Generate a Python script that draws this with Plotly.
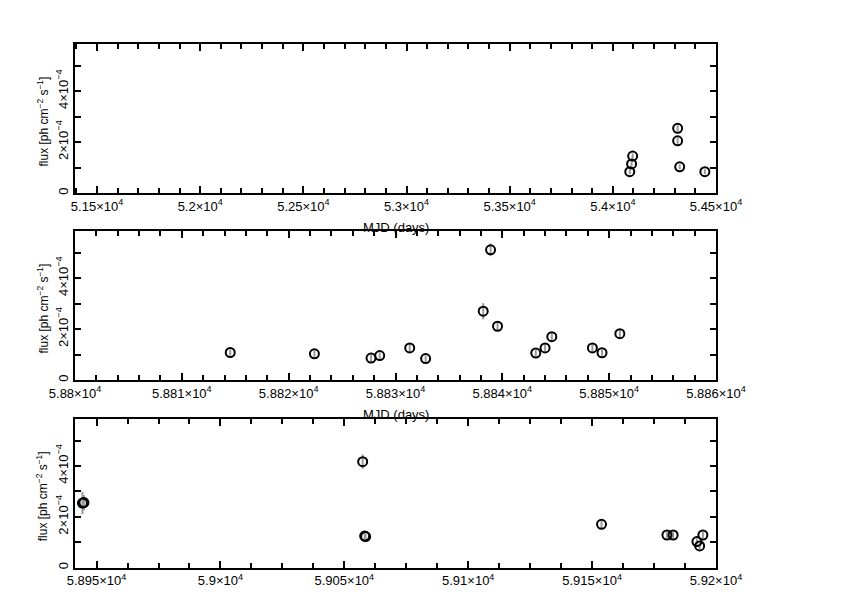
import plotly.graph_objects as go

# ---------------- data ----------------
mjd_p1 = [54082, 54091, 54096, 54314, 54314, 54324, 54446]
flux_p1 = [0.835e-4, 1.14e-4, 1.45e-4, 2.54e-4, 2.05e-4, 1.03e-4, 0.835e-4]
err_p1 = [0.10e-4, 0.10e-4, 0.10e-4, 0.12e-4, 0.12e-4, 0.10e-4, 0.10e-4]

mjd_p2 = [58814.53, 58822.41, 58827.71, 58828.52, 58831.33, 58832.82, 58838.21,
          58838.90, 58839.55, 58843.13, 58844.00, 58844.63, 58848.43, 58849.33, 58851.00]
flux_p2 = [1.08e-4, 1.03e-4, 0.86e-4, 0.96e-4, 1.26e-4, 0.84e-4, 2.70e-4,
           5.11e-4, 2.11e-4, 1.06e-4, 1.26e-4, 1.70e-4, 1.26e-4, 1.07e-4, 1.82e-4]
err_p2 = [0.12e-4, 0.12e-4, 0.12e-4, 0.12e-4, 0.18e-4, 0.12e-4, 0.32e-4,
          0.25e-4, 0.15e-4, 0.12e-4, 0.14e-4, 0.15e-4, 0.14e-4, 0.12e-4, 0.16e-4]

mjd_p3 = [58944.3, 58944.9, 59057.4, 59058.2, 59058.6, 59153.8, 59180.2, 59182.7,
          59194.7, 59192.3, 59193.4]
flux_p3 = [2.54e-4, 2.56e-4, 4.17e-4, 1.24e-4, 1.22e-4, 1.70e-4, 1.28e-4, 1.28e-4,
           1.28e-4, 1.02e-4, 0.85e-4]
err_p3 = [0.44e-4, 0.30e-4, 0.28e-4, 0.12e-4, 0.12e-4, 0.14e-4, 0.12e-4, 0.12e-4,
          0.12e-4, 0.12e-4, 0.12e-4]

xt_p1 = [51500, 52000, 52500, 53000, 53500, 54000, 54500]
xl_p1 = ["5.15", "5.2", "5.25", "5.3", "5.35", "5.4", "5.45"]
xt_p2 = [58800, 58810, 58820, 58830, 58840, 58850, 58860]
xl_p2 = ["5.88", "5.881", "5.882", "5.883", "5.884", "5.885", "5.886"]
xt_p3 = [58950, 59000, 59050, 59100, 59150, 59200]
xl_p3 = ["5.895", "5.9", "5.905", "5.91", "5.915", "5.92"]

yt = [0, 2e-4, 4e-4]
yl = ["0", "2×10<sup>−4</sup>", "4×10<sup>−4</sup>"]

x_title = "MJD (days)"
y_title = "flux [ph cm<sup>−2</sup> s<sup>−1</sup>]"

# ---------------- layout ----------------
W, H = 842, 595
OFF = 8  # page body margin of the browser
FONT = "Liberation Sans, Arial, Helvetica, sans-serif"
xl_px, xr_px = 75 - OFF, 716 - OFF
panels = [
    dict(mjd=mjd_p1, flux=flux_p1, err=err_p1, xr=[51393, 54500], xt=xt_p1, xl=xl_p1,
         minor=100, top=44, bot=193, xtitle=True),
    dict(mjd=mjd_p2, flux=flux_p2, err=err_p2, xr=[58800, 58860], xt=xt_p2, xl=xl_p2,
         minor=2, top=231, bot=380, xtitle=True),
    dict(mjd=mjd_p3, flux=flux_p3, err=err_p3, xr=[58941.3, 59200], xt=xt_p3, xl=xl_p3,
         minor=12.5, top=419, bot=567.5, xtitle=False),
]
YMAX = 5.85e-4

fig = go.Figure()
annotations = []
for i, p in enumerate(panels, start=1):
    xa = "x" if i == 1 else f"x{i}"
    ya = "y" if i == 1 else f"y{i}"
    top, bot = p["top"] - OFF, p["bot"] - OFF
    fig.add_trace(go.Scatter(
        x=p["mjd"], y=p["flux"], mode="markers", xaxis=xa, yaxis=ya,
        error_y=dict(type="data", array=p["err"], color="#9a9a9a", thickness=2, width=0),
        marker=dict(symbol="circle-open", size=9, color="black", line=dict(width=2, color="black")),
        showlegend=False, hoverinfo="skip"))
    dom_y = [1 - bot / H, 1 - top / H]
    axis_common = dict(showline=True, linecolor="black", linewidth=2, mirror="allticks",
                       ticks="inside", tickcolor="black", tickwidth=2, showgrid=False,
                       zeroline=False, automargin=False,
                       tickfont=dict(family=FONT, size=13, color="black"))
    fig.update_layout(**{
        ("xaxis" if i == 1 else f"xaxis{i}"): dict(
            domain=[xl_px / W, xr_px / W], anchor=ya, range=p["xr"],
            tickmode="array", tickvals=p["xt"],
            ticktext=[s + "×10<sup>4</sup>" for s in p["xl"]], ticklen=7,
            minor=dict(dtick=p["minor"], tick0=p["xt"][0], ticks="inside", ticklen=5,
                       tickwidth=1.5, tickcolor="black"),
            **axis_common),
        ("yaxis" if i == 1 else f"yaxis{i}"): dict(
            domain=dom_y, anchor=xa, range=[0, YMAX],
            tickmode="array", tickvals=yt, ticktext=yl, tickangle=-90, ticklen=6,
            minor=dict(dtick=1e-4, tick0=0, ticks="inside", ticklen=6, tickwidth=1.5,
                       tickcolor="black"),
            **axis_common),
    })
    if p["xtitle"]:
        annotations.append(dict(text=x_title, xref="paper", yref="paper",
                                x=(xl_px + xr_px) / 2 / W, y=1 - (bot + 34) / H,
                                xanchor="center", yanchor="middle", showarrow=False,
                                font=dict(family=FONT, size=13, color="black")))
    annotations.append(dict(text=y_title, xref="paper", yref="paper",
                            x=(42 - OFF) / W, y=1 - ((top + bot) / 2 + 3) / H,
                            xanchor="center", yanchor="middle", textangle=-90,
                            showarrow=False,
                            font=dict(family=FONT, size=12, color="black")))

fig.update_layout(width=W, height=H, margin=dict(l=0, r=0, t=0, b=0),
                  paper_bgcolor="white", plot_bgcolor="white",
                  annotations=annotations)
fig.write_html("out.html")
